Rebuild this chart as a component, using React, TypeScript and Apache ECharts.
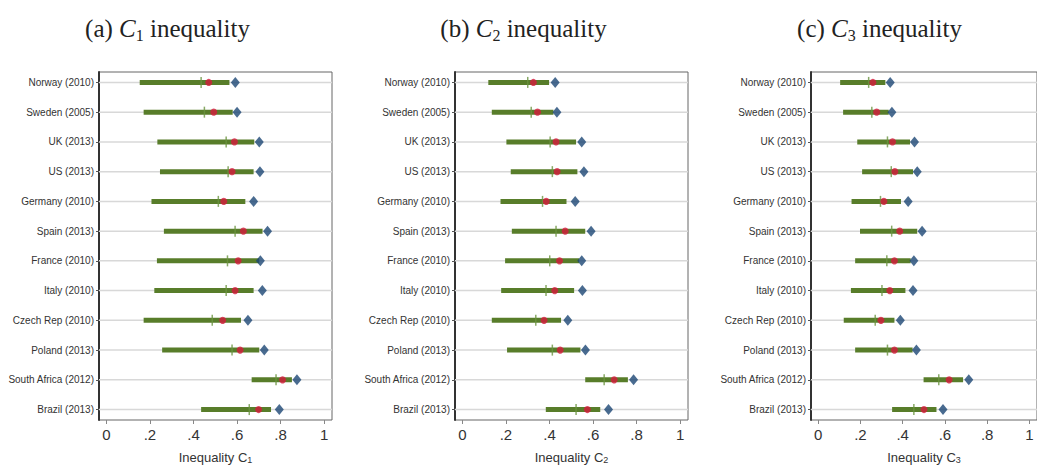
import React, { useEffect, useRef } from "react";
import * as echarts from "echarts";

const categories = [
  "Norway (2010)", "Sweden (2005)", "UK (2013)", "US (2013)", "Germany (2010)", "Spain (2013)",
  "France (2010)", "Italy (2010)", "Czech Rep (2010)", "Poland (2013)", "South Africa (2012)", "Brazil (2013)",
];
const xTicks = [0, 0.2, 0.4, 0.6, 0.8, 1];
const panelLetters = ["a", "b", "c"];
const panelIndex = ["1", "2", "3"];

const c1Low = [0.153, 0.171, 0.234, 0.246, 0.207, 0.264, 0.232, 0.22, 0.171, 0.256, 0.667, 0.435];
const c1High = [0.565, 0.58, 0.679, 0.676, 0.638, 0.717, 0.702, 0.676, 0.618, 0.702, 0.852, 0.756];
const c1Tick = [0.435, 0.45, 0.55, 0.559, 0.514, 0.591, 0.556, 0.55, 0.486, 0.577, 0.779, 0.656];
const c1Dot = [0.47, 0.493, 0.588, 0.577, 0.539, 0.629, 0.605, 0.591, 0.534, 0.614, 0.809, 0.699];
const c1Diamond = [0.592, 0.6, 0.702, 0.705, 0.676, 0.74, 0.707, 0.716, 0.65, 0.725, 0.875, 0.794];

const c2Low = [0.119, 0.135, 0.202, 0.222, 0.175, 0.227, 0.196, 0.178, 0.135, 0.205, 0.564, 0.383];
const c2High = [0.398, 0.418, 0.522, 0.528, 0.478, 0.564, 0.536, 0.513, 0.453, 0.542, 0.76, 0.633];
const c2Tick = [0.3, 0.316, 0.403, 0.413, 0.368, 0.43, 0.401, 0.384, 0.337, 0.413, 0.651, 0.522];
const c2Dot = [0.326, 0.345, 0.43, 0.435, 0.385, 0.472, 0.446, 0.424, 0.375, 0.449, 0.697, 0.574];
const c2Diamond = [0.426, 0.434, 0.548, 0.558, 0.518, 0.591, 0.548, 0.551, 0.484, 0.565, 0.786, 0.671];

const c3Low = [0.104, 0.118, 0.185, 0.208, 0.158, 0.198, 0.175, 0.155, 0.121, 0.175, 0.499, 0.35];
const c3High = [0.318, 0.334, 0.435, 0.449, 0.392, 0.469, 0.438, 0.413, 0.361, 0.447, 0.686, 0.56];
const c3Tick = [0.239, 0.254, 0.328, 0.346, 0.295, 0.348, 0.325, 0.302, 0.27, 0.328, 0.571, 0.453];
const c3Dot = [0.259, 0.277, 0.352, 0.363, 0.311, 0.386, 0.361, 0.339, 0.297, 0.361, 0.62, 0.501];
const c3Diamond = [0.341, 0.349, 0.456, 0.469, 0.426, 0.492, 0.453, 0.449, 0.389, 0.465, 0.713, 0.591];

const panels = [
  { low: c1Low, high: c1High, tick: c1Tick, dot: c1Dot, diamond: c1Diamond },
  { low: c2Low, high: c2High, tick: c2Tick, dot: c2Dot, diamond: c2Diamond },
  { low: c3Low, high: c3High, tick: c3Tick, dot: c3Dot, diamond: c3Diamond },
];

const GREEN = "#587d2a";
const TICKGREEN = "#6a9440";
const RED = "#d51a3c";
const BLUE = "#1b4674";
const SANS = "'Liberation Sans', Arial, sans-serif";
const SERIF = "'Liberation Serif', 'DejaVu Serif', serif";

const gridLefts = [99, 455, 811];
const GRID_W = 233;
const GRID_TOP = 72;
const GRID_H = 356;

export default function App() {
  const ref = useRef<HTMLDivElement>(null);
  useEffect(() => {
    if (!ref.current) return;
    const chart = echarts.init(ref.current, null, { renderer: "svg" });
    const grid: any[] = [];
    const xAxis: any[] = [];
    const yAxis: any[] = [];
    const series: any[] = [];
    const graphic: any[] = [];
    panels.forEach((p, i) => {
      grid.push({
        left: gridLefts[i], top: GRID_TOP, width: GRID_W, height: GRID_H,
        show: true, borderColor: "#666", borderWidth: 1, backgroundColor: "#fff",
      });
      xAxis.push({
        gridIndex: i, type: "value", min: -0.034, max: 1.036,
        axisLine: { show: false, onZero: false },
        splitLine: { show: false },
        axisTick: { show: true, customValues: xTicks, length: 4, lineStyle: { color: "#888" } },
        axisLabel: {
          customValues: xTicks, margin: 7, color: "#333", fontSize: 15, fontFamily: SANS,
          formatter: (v: number) => (v === 0 ? "0" : v === 1 ? "1" : String(Math.round(v * 10) / 10).replace(/^0/, "")),
        },
        name: "Inequality C{s|" + panelIndex[i] + "}",
        nameLocation: "middle", nameGap: 31,
        nameTextStyle: {
          color: "#333", fontSize: 13, fontFamily: SANS,
          rich: { s: { fontSize: 9, fontFamily: SANS, color: "#333", verticalAlign: "bottom", lineHeight: 10, padding: [6, 0, 0, 0] } },
        },
      });
      yAxis.push({
        gridIndex: i, type: "value", min: -0.35, max: 11.35, inverse: true,
        axisLine: { show: true, onZero: false, lineStyle: { color: "#333", width: 2 } },
        splitLine: { show: false },
        axisTick: { show: true, customValues: categories.map((_, k) => k), length: 3, lineStyle: { color: "#555" } },
        axisLabel: {
          customValues: categories.map((_, k) => k), margin: 5, color: "#333", fontSize: 10, fontFamily: SANS,
          formatter: (v: number) => categories[Math.round(v)] ?? "",
        },
      });
      series.push({
        type: "custom", xAxisIndex: i, yAxisIndex: i, z: 1,
        data: categories.map((_, k) => [0, k]),
        renderItem: (params: any, api: any) => {
          const c = api.coord([0, api.value(1)]);
          const cs = params.coordSys;
          return {
            type: "line",
            shape: { x1: cs.x, y1: c[1], x2: cs.x + cs.width, y2: c[1] },
            style: { stroke: "#d8d8d8", lineWidth: 1.5 },
          };
        },
      });
      series.push({
        type: "custom", xAxisIndex: i, yAxisIndex: i, z: 2,
        encode: { x: [0, 2], y: 1 },
        data: categories.map((_, k) => [p.low[k], k, p.high[k]]),
        renderItem: (_params: any, api: any) => {
          const a = api.coord([api.value(0), api.value(1)]);
          const b = api.coord([api.value(2), api.value(1)]);
          return {
            type: "rect",
            shape: { x: a[0], y: a[1] - 2.5, width: b[0] - a[0], height: 5 },
            style: { fill: GREEN },
          };
        },
      });
      series.push({
        type: "scatter", xAxisIndex: i, yAxisIndex: i, z: 3,
        symbol: "rect", symbolSize: [1.5, 11],
        itemStyle: { color: TICKGREEN },
        data: categories.map((_, k) => [p.tick[k], k]),
      });
      series.push({
        type: "scatter", xAxisIndex: i, yAxisIndex: i, z: 4,
        symbol: "circle", symbolSize: 7,
        itemStyle: { color: RED },
        data: categories.map((_, k) => [p.dot[k], k]),
      });
      series.push({
        type: "scatter", xAxisIndex: i, yAxisIndex: i, z: 4,
        symbol: "diamond", symbolSize: [9, 11],
        itemStyle: { color: BLUE },
        data: categories.map((_, k) => [p.diamond[k], k]),
      });
      graphic.push({
        type: "text",
        x: gridLefts[i] + GRID_W / 2 - 48,
        y: 28,
        style: {
          text: "(" + panelLetters[i] + ") {c|C}{s|" + panelIndex[i] + "} inequality",
          fill: "#222",
          font: "25px " + SERIF,
          textAlign: "center",
          textVerticalAlign: "middle",
          rich: {
            c: { fontFamily: SERIF, fontStyle: "italic", fontSize: 25, fill: "#222", lineHeight: 30 },
            s: { fontFamily: SERIF, fontSize: 16, fill: "#222", lineHeight: 12, verticalAlign: "bottom" },
          },
        },
      });
    });
    chart.setOption({
      animation: false,
      backgroundColor: "#fff",
      grid, xAxis, yAxis, series, graphic,
    });
    return () => chart.dispose();
  }, []);
  return (
    <div
      ref={ref}
      style={{ position: "fixed", left: 0, top: 0, width: 1037, height: 469 }}
    />
  );
}
